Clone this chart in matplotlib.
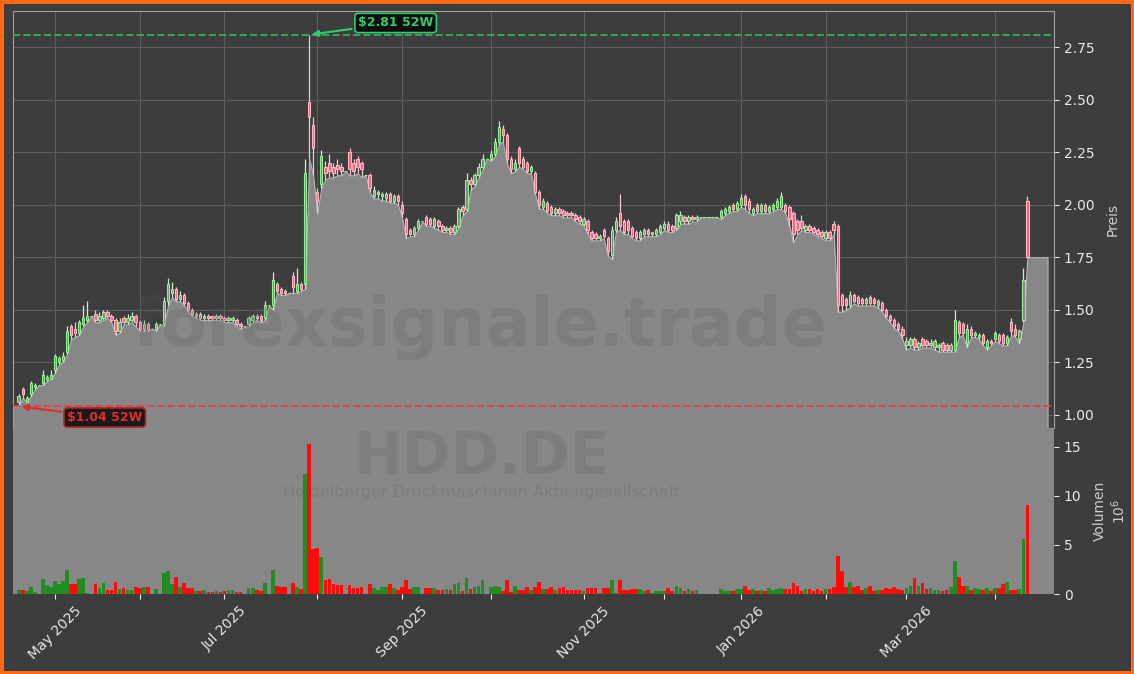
import numpy as np
import pandas as pd
import matplotlib
matplotlib.use("Agg")
import matplotlib.pyplot as plt

# trading calendar (Xetra holidays removed)
holidays = ["2025-04-18", "2025-04-21", "2025-05-01", "2025-12-24", "2025-12-25",
            "2025-12-26", "2025-12-31", "2026-01-01", "2026-04-03", "2026-04-06"]
dates = pd.bdate_range("2025-04-16", "2026-04-15")
dates = dates[~dates.isin(pd.to_datetime(holidays))]

opens = [
    1.06, 1.12, 1.06, 1.10, 1.13, 1.14, 1.15, 1.17, 1.17, 1.21,
    1.25, 1.26, 1.30, 1.42, 1.41, 1.39, 1.43, 1.45, 1.47, 1.48,
    1.45, 1.46, 1.49, 1.47, 1.45, 1.40, 1.46, 1.44, 1.45, 1.47,
    1.44, 1.41, 1.43, 1.41, 1.41, 1.43, 1.43, 1.54, 1.58, 1.60,
    1.55, 1.57, 1.53, 1.50, 1.47, 1.48, 1.46, 1.47, 1.47, 1.46,
    1.47, 1.46, 1.45, 1.45, 1.45, 1.43, 1.42, 1.43, 1.45, 1.47,
    1.47, 1.46, 1.52, 1.52, 1.62, 1.60, 1.59, 1.58, 1.66, 1.59,
    1.62, 1.62, 2.49, 2.38, 2.06, 2.10, 2.18, 2.20, 2.18, 2.19,
    2.18, 2.16, 2.25, 2.20, 2.22, 2.20, 2.14, 2.14, 2.04, 2.05,
    2.04, 2.03, 2.05, 2.02, 2.04, 2.00, 1.93, 1.88, 1.86, 1.89,
    1.92, 1.94, 1.93, 1.90, 1.92, 1.90, 1.88, 1.89, 1.87, 1.90,
    1.99, 1.98, 2.12, 2.10, 2.14, 2.18, 2.22, 2.22, 2.24, 2.30,
    2.36, 2.33, 2.22, 2.17, 2.27, 2.22, 2.20, 2.16, 2.15, 2.06,
    1.99, 2.01, 1.99, 1.96, 1.98, 1.97, 1.96, 1.96, 1.95, 1.94,
    1.91, 1.92, 1.87, 1.86, 1.84, 1.88, 1.84, 1.76, 1.88, 1.96,
    1.92, 1.92, 1.89, 1.87, 1.84, 1.86, 1.88, 1.86, 1.86, 1.87,
    1.89, 1.91, 1.90, 1.89, 1.92, 1.94, 1.92, 1.94, 1.93, 1.94,
    1.94, 1.94, 1.94, 1.94, 1.94, 1.96, 1.97, 2.00, 1.98, 2.00,
    2.04, 2.02, 1.96, 2.00, 1.97, 2.00, 1.97, 1.98, 1.99, 1.99,
    2.00, 1.99, 1.96, 1.92, 1.92, 1.88, 1.90, 1.89, 1.88, 1.87,
    1.84, 1.87, 1.91, 1.90, 1.57, 1.55, 1.52, 1.57, 1.56, 1.55,
    1.53, 1.56, 1.55, 1.52, 1.53, 1.50, 1.47, 1.45, 1.43, 1.41,
    1.33, 1.33, 1.36, 1.32, 1.36, 1.35, 1.33, 1.32, 1.32, 1.34,
    1.33, 1.31, 1.31, 1.44, 1.43, 1.34, 1.41, 1.38, 1.37, 1.38,
    1.32, 1.35, 1.36, 1.38, 1.38, 1.34, 1.44, 1.41, 1.36, 1.45,
    2.02,
]
highs = [
    1.10, 1.13, 1.09, 1.16, 1.15, 1.14, 1.21, 1.19, 1.21, 1.29,
    1.28, 1.30, 1.42, 1.43, 1.44, 1.45, 1.52, 1.54, 1.47, 1.50,
    1.49, 1.50, 1.50, 1.48, 1.46, 1.46, 1.47, 1.48, 1.49, 1.48,
    1.45, 1.45, 1.44, 1.41, 1.44, 1.43, 1.56, 1.65, 1.63, 1.61,
    1.59, 1.58, 1.54, 1.51, 1.49, 1.49, 1.48, 1.48, 1.47, 1.48,
    1.48, 1.47, 1.47, 1.47, 1.46, 1.44, 1.42, 1.47, 1.48, 1.48,
    1.48, 1.54, 1.52, 1.68, 1.63, 1.61, 1.60, 1.58, 1.68, 1.70,
    1.63, 2.22, 2.81, 2.42, 2.08, 2.26, 2.21, 2.24, 2.20, 2.22,
    2.20, 2.16, 2.27, 2.22, 2.23, 2.21, 2.14, 2.15, 2.09, 2.07,
    2.06, 2.06, 2.06, 2.05, 2.05, 2.02, 1.94, 1.89, 1.90, 1.93,
    1.92, 1.95, 1.94, 1.94, 1.93, 1.91, 1.90, 1.90, 1.91, 1.99,
    2.00, 2.15, 2.13, 2.15, 2.20, 2.24, 2.22, 2.26, 2.32, 2.40,
    2.38, 2.34, 2.23, 2.22, 2.28, 2.23, 2.21, 2.19, 2.16, 2.07,
    2.03, 2.02, 2.00, 1.99, 1.99, 1.98, 1.97, 1.97, 1.96, 1.95,
    1.94, 1.93, 1.88, 1.87, 1.86, 1.89, 1.85, 1.90, 1.94, 2.05,
    1.93, 1.93, 1.90, 1.88, 1.88, 1.89, 1.89, 1.87, 1.89, 1.91,
    1.92, 1.92, 1.91, 1.96, 1.97, 1.95, 1.95, 1.95, 1.95, 1.94,
    1.94, 1.94, 1.94, 1.94, 1.98, 1.99, 2.00, 2.01, 2.02, 2.05,
    2.05, 2.03, 1.99, 2.01, 2.01, 2.01, 2.00, 2.01, 2.03, 2.06,
    2.01, 2.00, 1.97, 1.93, 1.95, 1.91, 1.91, 1.90, 1.89, 1.88,
    1.88, 1.88, 1.92, 1.91, 1.58, 1.56, 1.59, 1.58, 1.57, 1.56,
    1.56, 1.57, 1.56, 1.55, 1.54, 1.51, 1.48, 1.46, 1.44, 1.42,
    1.37, 1.37, 1.37, 1.35, 1.37, 1.36, 1.36, 1.36, 1.34, 1.35,
    1.34, 1.34, 1.50, 1.45, 1.44, 1.43, 1.42, 1.40, 1.39, 1.39,
    1.36, 1.36, 1.40, 1.39, 1.39, 1.38, 1.46, 1.43, 1.41, 1.70,
    2.04,
]
lows = [
    1.04, 1.08, 1.06, 1.09, 1.12, 1.14, 1.14, 1.16, 1.17, 1.20,
    1.24, 1.25, 1.29, 1.36, 1.37, 1.38, 1.42, 1.44, 1.47, 1.44,
    1.44, 1.45, 1.46, 1.44, 1.38, 1.39, 1.43, 1.43, 1.44, 1.42,
    1.40, 1.40, 1.40, 1.41, 1.40, 1.43, 1.42, 1.52, 1.56, 1.54,
    1.54, 1.52, 1.49, 1.47, 1.46, 1.45, 1.45, 1.45, 1.45, 1.45,
    1.45, 1.44, 1.44, 1.44, 1.42, 1.41, 1.42, 1.42, 1.44, 1.45,
    1.44, 1.45, 1.52, 1.50, 1.58, 1.57, 1.57, 1.58, 1.58, 1.58,
    1.59, 1.60, 2.22, 2.14, 1.96, 2.08, 2.12, 2.13, 2.13, 2.14,
    2.14, 2.16, 2.14, 2.14, 2.15, 2.13, 2.14, 2.06, 2.03, 2.03,
    2.02, 2.02, 2.01, 2.01, 2.00, 1.94, 1.84, 1.85, 1.85, 1.88,
    1.92, 1.90, 1.90, 1.89, 1.88, 1.87, 1.87, 1.86, 1.86, 1.89,
    1.95, 1.97, 2.07, 2.09, 2.13, 2.17, 2.22, 2.21, 2.23, 2.29,
    2.30, 2.20, 2.15, 2.16, 2.18, 2.17, 2.15, 2.15, 2.05, 1.98,
    1.98, 1.96, 1.95, 1.95, 1.95, 1.94, 1.94, 1.94, 1.92, 1.91,
    1.90, 1.86, 1.83, 1.83, 1.83, 1.84, 1.76, 1.74, 1.87, 1.88,
    1.86, 1.86, 1.84, 1.83, 1.83, 1.85, 1.85, 1.85, 1.85, 1.86,
    1.88, 1.87, 1.87, 1.88, 1.91, 1.91, 1.91, 1.92, 1.92, 1.94,
    1.94, 1.94, 1.94, 1.94, 1.93, 1.95, 1.96, 1.97, 1.97, 1.99,
    1.98, 1.96, 1.95, 1.96, 1.96, 1.96, 1.96, 1.97, 1.98, 1.98,
    1.96, 1.90, 1.82, 1.86, 1.88, 1.87, 1.87, 1.86, 1.85, 1.84,
    1.83, 1.83, 1.86, 1.49, 1.49, 1.50, 1.51, 1.53, 1.52, 1.52,
    1.52, 1.52, 1.52, 1.51, 1.49, 1.46, 1.44, 1.41, 1.40, 1.36,
    1.31, 1.32, 1.31, 1.31, 1.32, 1.32, 1.32, 1.31, 1.30, 1.30,
    1.30, 1.30, 1.30, 1.37, 1.38, 1.32, 1.37, 1.37, 1.36, 1.33,
    1.31, 1.33, 1.35, 1.34, 1.33, 1.33, 1.38, 1.37, 1.34, 1.44,
    1.75,
]
closes = [
    1.09, 1.10, 1.08, 1.15, 1.14, 1.14, 1.19, 1.18, 1.19, 1.28,
    1.27, 1.28, 1.40, 1.38, 1.39, 1.44, 1.46, 1.47, 1.47, 1.45,
    1.47, 1.49, 1.47, 1.45, 1.40, 1.44, 1.44, 1.46, 1.47, 1.44,
    1.41, 1.43, 1.41, 1.41, 1.43, 1.43, 1.54, 1.62, 1.60, 1.55,
    1.57, 1.53, 1.50, 1.48, 1.48, 1.46, 1.47, 1.46, 1.46, 1.47,
    1.46, 1.45, 1.46, 1.46, 1.43, 1.42, 1.42, 1.46, 1.47, 1.46,
    1.45, 1.52, 1.52, 1.64, 1.59, 1.58, 1.58, 1.58, 1.61, 1.62,
    1.60, 2.15, 2.42, 2.27, 2.02, 2.23, 2.15, 2.16, 2.15, 2.17,
    2.16, 2.16, 2.17, 2.16, 2.18, 2.17, 2.14, 2.08, 2.07, 2.06,
    2.05, 2.05, 2.02, 2.04, 2.02, 1.96, 1.86, 1.86, 1.89, 1.92,
    1.92, 1.91, 1.91, 1.93, 1.90, 1.88, 1.89, 1.87, 1.90, 1.98,
    1.97, 2.12, 2.10, 2.14, 2.18, 2.22, 2.22, 2.24, 2.30, 2.37,
    2.33, 2.22, 2.17, 2.20, 2.20, 2.18, 2.16, 2.18, 2.06, 2.00,
    2.02, 1.97, 1.96, 1.98, 1.96, 1.95, 1.95, 1.95, 1.93, 1.92,
    1.93, 1.88, 1.84, 1.84, 1.85, 1.85, 1.78, 1.88, 1.92, 1.90,
    1.87, 1.88, 1.85, 1.84, 1.87, 1.88, 1.86, 1.87, 1.88, 1.90,
    1.91, 1.88, 1.88, 1.95, 1.95, 1.92, 1.94, 1.93, 1.94, 1.94,
    1.94, 1.94, 1.94, 1.94, 1.97, 1.98, 1.99, 1.98, 2.01, 2.03,
    2.00, 1.98, 1.98, 1.97, 2.00, 1.97, 1.99, 2.00, 2.02, 2.04,
    1.97, 1.93, 1.86, 1.88, 1.89, 1.90, 1.88, 1.87, 1.86, 1.85,
    1.87, 1.84, 1.88, 1.52, 1.52, 1.52, 1.57, 1.54, 1.53, 1.53,
    1.55, 1.53, 1.53, 1.54, 1.50, 1.47, 1.45, 1.42, 1.41, 1.38,
    1.35, 1.36, 1.32, 1.34, 1.33, 1.33, 1.34, 1.35, 1.33, 1.31,
    1.31, 1.33, 1.45, 1.39, 1.39, 1.41, 1.38, 1.39, 1.38, 1.34,
    1.35, 1.34, 1.39, 1.35, 1.34, 1.37, 1.40, 1.38, 1.40, 1.64,
    1.75,
]
# volume in millions
volume = [
    0.4, 0.4, 0.3, 0.7, 0.2, 0.0, 1.5, 0.9, 0.7, 1.3,
    1.0, 1.3, 2.4, 1.0, 1.0, 1.5, 1.6, 0.1, 0.0, 1.0,
    0.6, 1.1, 0.4, 0.4, 1.2, 0.5, 0.6, 0.4, 0.4, 0.7,
    0.6, 0.7, 0.7, 0.0, 0.5, 0.0, 2.1, 2.3, 1.0, 1.75,
    0.7, 1.1, 0.6, 0.6, 0.3, 0.3, 0.4, 0.2, 0.2, 0.3,
    0.2, 0.3, 0.4, 0.4, 0.2, 0.2, 0.0, 0.6, 0.6, 0.4,
    0.3, 1.1, 0.0, 2.4, 0.8, 0.7, 0.7, 0.0, 1.1, 0.7,
    0.5, 12.2, 15.3, 4.6, 4.7, 3.8, 1.4, 1.5, 1.0, 0.9,
    0.9, 0.0, 0.9, 0.6, 0.6, 0.7, 0.0, 1.0, 0.6, 0.4,
    0.7, 0.7, 1.0, 0.6, 0.4, 0.7, 1.4, 0.5, 0.7, 0.7,
    0.0, 0.6, 0.6, 0.6, 0.4, 0.4, 0.5, 0.4, 1.0, 1.1,
    0.3, 1.6, 0.5, 0.7, 0.8, 1.4, 0.0, 0.7, 0.8, 0.7,
    0.3, 1.4, 0.2, 0.8, 0.4, 0.4, 0.7, 0.4, 0.7, 1.2,
    0.5, 0.5, 0.7, 0.4, 0.6, 0.7, 0.4, 0.4, 0.4, 0.4,
    0.3, 0.6, 0.6, 0.6, 0.1, 0.6, 0.6, 1.4, 0.1, 1.4,
    0.4, 0.4, 0.5, 0.5, 0.5, 0.3, 0.4, 0.1, 0.3, 0.3,
    0.3, 0.6, 0.3, 0.8, 0.6, 0.3, 0.5, 0.3, 0.4, 0.0,
    0.0, 0.0, 0.0, 0.0, 0.5, 0.3, 0.3, 0.3, 0.5, 0.5,
    0.8, 0.4, 0.5, 0.3, 0.4, 0.3, 0.6, 0.4, 0.5, 0.6,
    0.5, 0.5, 1.15, 0.8, 0.3, 0.5, 0.5, 0.3, 0.5, 0.3,
    0.5, 0.5, 0.7, 3.9, 2.3, 0.7, 1.2, 0.7, 0.8, 0.4,
    0.6, 0.8, 0.3, 0.4, 0.4, 0.6, 0.5, 0.7, 0.5, 0.4,
    0.6, 0.8, 1.6, 0.8, 1.1, 0.5, 0.6, 0.4, 0.4, 0.3,
    0.4, 0.7, 3.4, 1.7, 0.8, 0.8, 0.4, 0.6, 0.5, 0.4,
    0.6, 0.3, 0.6, 0.6, 1.0, 1.2, 0.4, 0.4, 0.5, 5.6,
    9.1,
]
# flat continuation of the shaded area after the last session
area_tail = [1.75, 1.75, 1.75, 1.75, 1.75]

ticker = "HDD.DE"
company = "Heidelberger Druckmaschinen Aktiengesellschaft"

BG = "#3d3d3d"
PANEL = "#878787"

o = np.array(opens)
h = np.array(highs)
l = np.array(lows)
c = np.array(closes)
v = np.array(volume)
x = np.arange(len(c))
up = c >= o

fig = plt.figure(figsize=(11.34, 6.74), dpi=100, facecolor=BG)
fig.patch.set_edgecolor("#ff6a13")
fig.patch.set_linewidth(5)

ax = fig.add_axes([0.01146, 0.36499, 0.91799, 0.61869])
axv = fig.add_axes([0.01146, 0.11869, 0.91799, 0.24629], sharex=ax)

xmin, xmax = -1.41, 256.6
ymin, ymax = 0.936, 2.923

# price panel
ax.set_facecolor(BG)
ax.set_axisbelow(True)
ax.grid(True, color="#5d5d5d", lw=0.8)
area = list(lows) + area_tail
xa = np.r_[xmin, np.arange(len(area))]
ya = np.r_[area[0], area]
ax.fill_between(xa, ya, ymin, facecolor=PANEL, edgecolor="#b4b4b4", lw=0.8, zorder=2)

ax.vlines(x[up], l[up], h[up], color="#cdeccd", lw=0.9, zorder=3)
ax.vlines(x[~up], l[~up], h[~up], color="#f3c6d0", lw=0.9, zorder=3)
ax.bar(x[up], (c - o)[up], bottom=o[up], width=0.6, facecolor=PANEL,
       edgecolor="#90ee90", lw=0.8, zorder=4)
ax.bar(x[~up], (o - c)[~up], bottom=c[~up], width=0.6, facecolor="#ee6688",
       edgecolor="#ffb6c1", lw=0.8, zorder=4)

hi = h.max()
lo = l.min()
ax.axhline(hi, color="#34a853", ls="--", lw=1.4, zorder=5)
ax.axhline(lo, color="#e04545", ls="--", lw=1.4, zorder=5)
ax.annotate(rf"\${hi:.2f} 52W", xy=(int(h.argmax()), hi), xytext=(84.1, 2.866),
            ha="left", va="center", fontsize=9, fontweight="bold", color="#2ecc71",
            bbox=dict(boxstyle="round,pad=0.25", fc="#0d0d0d", ec="#2ecc71", lw=1.2),
            arrowprops=dict(arrowstyle="-|>", color="#2ecc71", lw=1.5), zorder=6)
ax.annotate(rf"\${lo:.2f} 52W", xy=(int(l.argmin()), lo), xytext=(12.0, 0.986),
            ha="left", va="center", fontsize=9, fontweight="bold", color="#e52a2a",
            bbox=dict(boxstyle="round,pad=0.25", fc="#1a1a1a", ec="#b52a2a", lw=1.2),
            arrowprops=dict(arrowstyle="-|>", color="#e52a2a", lw=1.5), zorder=6)

ax.set_ylim(ymin, ymax)
ax.set_xlim(xmin, xmax)
ax.set_yticks([1.0, 1.25, 1.5, 1.75, 2.0, 2.25, 2.5, 2.75])
ax.yaxis.set_major_formatter(plt.FormatStrFormatter("%.2f"))
ax.yaxis.tick_right()
ax.yaxis.set_label_position("right")
ax.set_ylabel("Preis", color="#cccccc", fontsize=10, labelpad=8)
ax.tick_params(axis="y", colors="#e8e8e8", labelsize=10)
ax.tick_params(axis="x", length=0, labelbottom=False)
for s in ax.spines.values():
    s.set_color("#a0a0a0")

# volume panel
axv.set_facecolor(PANEL)
axv.bar(x, v, width=0.9, color=np.where(up, "#228b22", "#ff0a0a"), zorder=2)
axv.set_ylim(0, 16.9)
axv.set_yticks([0, 5, 10, 15])
axv.yaxis.tick_right()
axv.yaxis.set_label_position("right")
axv.set_ylabel("Volumen\n$10^6$", color="#cccccc", fontsize=10, labelpad=8)
axv.tick_params(axis="both", colors="#e8e8e8", labelsize=10)
for s in axv.spines.values():
    s.set_visible(False)

# month ticks at first session of each month
ds = pd.Series(dates)
first = ds.groupby([ds.dt.year, ds.dt.month]).head(1)
first = first[first.dt.day <= 7]
tick_pos = list(first.index)
tick_lab = [d.strftime("%b %Y") if d.month % 2 == 1 else "" for d in first]
axv.set_xticks(tick_pos)
axv.set_xticklabels(tick_lab, rotation=45, ha="center")
ax.set_xticks(tick_pos)

# watermarks
fig.text(480 / 1134, 1 - 327 / 674, "forexsignale.trade", fontsize=48, fontweight="bold",
         color="#555555", alpha=0.2, ha="center", va="center")
fig.text(482 / 1134, 1 - 458 / 674, ticker, fontsize=42, fontweight="bold",
         color="#555555", alpha=0.2, ha="center", va="center")
fig.text(482 / 1134, 1 - 493 / 674, company, fontsize=11.5,
         color="#555555", alpha=0.2, ha="center", va="center")

fig.savefig("out.png", dpi=100, facecolor=fig.get_facecolor(), edgecolor=fig.get_edgecolor())
